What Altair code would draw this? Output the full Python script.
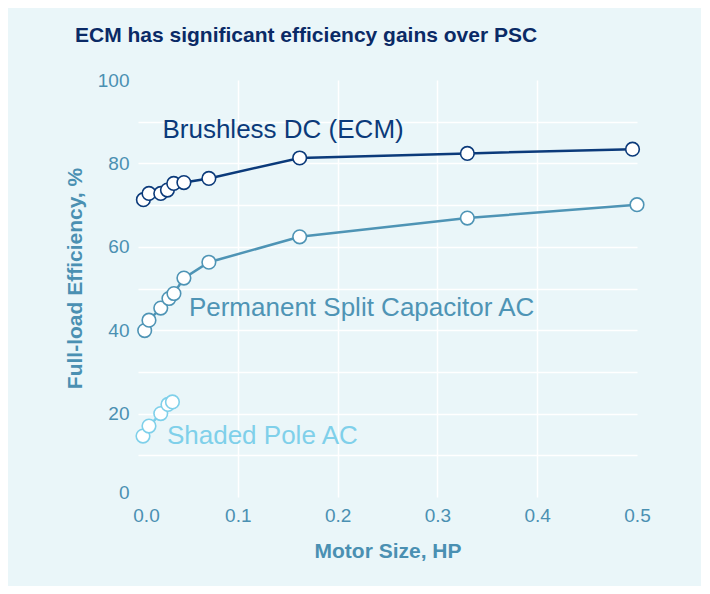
import altair as alt
import pandas as pd

# ---- data ----
ecm_hp = [0.0054, 0.011, 0.0228, 0.0295, 0.0358, 0.046, 0.071, 0.162, 0.330, 0.4955]
ecm_eff = [71.3, 72.8, 72.8, 73.6, 75.2, 75.4, 76.4, 81.3, 82.4, 83.4]

psc_hp = [0.0067, 0.011, 0.0228, 0.031, 0.036, 0.046, 0.071, 0.162, 0.330, 0.500]
psc_eff = [39.9, 42.4, 45.3, 47.6, 48.8, 52.5, 56.3, 62.4, 66.9, 70.1]

sp_hp = [0.005, 0.011, 0.0228, 0.030, 0.0345]
sp_eff = [14.6, 17.0, 20.0, 22.2, 22.8]

series_names = ["Brushless DC (ECM)", "Permanent Split Capacitor AC", "Shaded Pole AC"]
series_colors = ["#0b3a7a", "#4e94b5", "#7fd0ea"]

label_x = [0.0245, 0.051, 0.029]
label_y = [86.0, 43.4, 12.6]

x_ticks = [0.0, 0.1, 0.2, 0.3, 0.4, 0.5]
y_ticks = list(range(0, 101, 10))

title_text = "ECM has significant efficiency gains over PSC"
x_title = "Motor Size, HP"
y_title = "Full-load Efficiency, %"

# ---- tables ----
rows = []
for name, xs, ys in zip(series_names, [ecm_hp, psc_hp, sp_hp], [ecm_eff, psc_eff, sp_eff]):
    for i, (xv, yv) in enumerate(zip(xs, ys)):
        rows.append({"series": name, "hp": xv, "eff": yv, "order": i})
df = pd.DataFrame(rows)
labels = pd.DataFrame({"series": series_names, "hp": label_x, "eff": label_y})

FONT = "Liberation Sans"
AXIS_COLOR = "#4a90b2"

color = alt.Color("series:N", scale=alt.Scale(domain=series_names, range=series_colors), legend=None)

x_enc = alt.X(
    "hp:Q",
    scale=alt.Scale(domain=[0, 0.5], nice=False, zero=False),
    axis=alt.Axis(
        values=x_ticks,
        format=".1f",
        title=x_title,
        grid=True,
        gridColor="white",
        gridWidth=1.5,
        gridOpacity={"condition": {"test": "datum.value <= 0.0001 || datum.value >= 0.4999", "value": 0}, "value": 1},
        labelOffset={"condition": {"test": "datum.value <= 0.0001", "value": 8}, "value": 0},
        domain=False,
        ticks=False,
        labelFlush=False,
        labelPadding=9,
        labelFontSize=19,
        labelColor=AXIS_COLOR,
        labelFont=FONT,
        titleFont=FONT,
        titleFontSize=21,
        titleFontWeight="bold",
        titleColor=AXIS_COLOR,
        titlePadding=15,
    ),
)
y_enc = alt.Y(
    "eff:Q",
    scale=alt.Scale(domain=[0, 100], nice=False),
    axis=alt.Axis(
        values=y_ticks,
        labelExpr="datum.value % 20 == 0 ? datum.label : ''",
        title=y_title,
        grid=True,
        gridColor="white",
        gridWidth=1.5,
        gridOpacity={"condition": {"test": "datum.value == 0 || datum.value == 100", "value": 0}, "value": 1},
        labelOffset={"condition": {"test": "datum.value == 0", "value": -5}, "value": 0},
        domain=False,
        ticks=False,
        labelFlush=False,
        labelPadding=9,
        labelFontSize=19,
        labelColor=AXIS_COLOR,
        labelFont=FONT,
        titleFont=FONT,
        titleFontSize=21,
        titleFontWeight="bold",
        titleColor=AXIS_COLOR,
        titlePadding=12,
        titleY=198,
    ),
)

base = alt.Chart(df)
lines = base.mark_line(strokeWidth=2.5).encode(x=x_enc, y=y_enc, color=color, detail="series:N", order="order:Q")
points = base.mark_point(shape="circle", filled=True, fill="white", size=185, strokeWidth=1.6, opacity=1).encode(
    x="hp:Q", y="eff:Q", stroke=alt.Stroke("series:N", scale=alt.Scale(domain=series_names, range=series_colors), legend=None)
)
texts = alt.Chart(labels).mark_text(align="left", baseline="alphabetic", fontSize=26, font=FONT).encode(
    x="hp:Q", y="eff:Q", text="series:N", color=color
)

chart = (
    alt.layer(lines, points, texts)
    .properties(
        width=499,
        height=417,
        autosize=alt.AutoSizeParams(type="none"),
        padding={"left": 130, "top": 72, "right": 64, "bottom": 89},
        background="#eaf6f9",
        title=alt.TitleParams(
            text=title_text,
            anchor="start",
            frame="group",
            dx=-63,
            offset=25,
            fontSize=21,
            fontWeight="bold",
            font=FONT,
            color="#0a2a66",
        ),
    )
    .configure_view(stroke=None)
)

chart.save("out.html", embed_options={"renderer": "svg", "actions": False})
